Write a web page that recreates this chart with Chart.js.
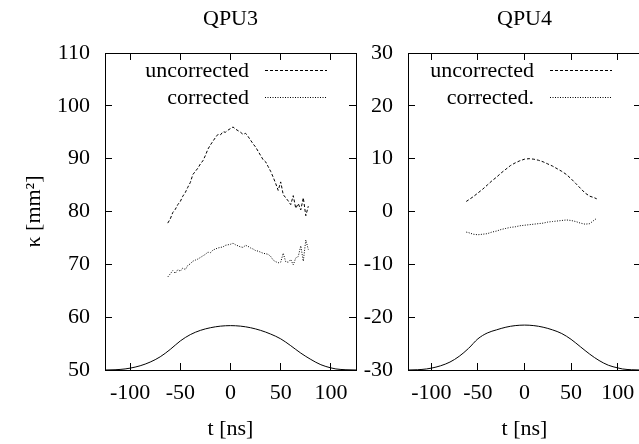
<!DOCTYPE html>
<html>
<head>
<meta charset="utf-8">
<script src="https://cdn.jsdelivr.net/npm/chart.js@4.4.1/dist/chart.umd.min.js"></script>
<style>
  html, body { margin:0; padding:0; background:#fff; overflow:hidden; }
  body { width:639px; height:444px; position:relative; }
  canvas { position:absolute; top:0; }
  #qpu3 { left:0; }
  #qpu4 { left:356px; }
</style>
</head>
<body>
<canvas id="qpu3" width="370" height="444"></canvas>
<canvas id="qpu4" width="300" height="444"></canvas>
<script>
// ============================
// DATA
// ============================

const xTicks  = [-100, -50, 0, 50, 100];
const y3Ticks = [50, 60, 70, 80, 90, 100, 110];
const y4Ticks = [-30, -20, -10, 0, 10, 20, 30];

// pulse shape (solid line)
const tPulse  = [-125, -115, -105, -100, -90, -80, -70, -60, -50, -40, -30, -20, -10, 0,
                 10, 20, 30, 40, 50, 60, 70, 80, 90, 100, 105, 115, 125];
const pulseQ3 = [50.0, 50.05, 50.2, 50.35, 50.8, 51.5, 52.5, 53.9, 55.5, 56.7, 57.5, 58.0, 58.3, 58.4,
                 58.3, 58.0, 57.5, 56.8, 55.9, 54.6, 53.2, 52.0, 51.0, 50.4, 50.2, 50.05, 50.0];
const pulseQ4 = [-30.0, -29.95, -29.8, -29.65, -29.2, -28.5, -27.4, -25.9, -24.1, -23.0, -22.4, -21.9, -21.6, -21.5,
                 -21.6, -21.9, -22.4, -23.1, -24.2, -25.6, -27.0, -28.2, -29.1, -29.6, -29.8, -29.95, -30.0];

// QPU3 measurements
const tQ3 = [-62.5, -60, -57.5, -55, -52.5, -50, -47.5, -45, -42.5, -40, -37.5, -35, -32.5, -30,
             -27.5, -25, -22.5, -20, -17.5, -15, -12.5, -10, -7.5, -5, -2.5, 0, 2.5, 5, 7.5,
             10, 12.5, 15, 17.5, 20, 22.5, 25, 27.5, 30, 32.5, 35, 37.5, 40, 42.5, 45, 47.5,
             50, 52.5, 55, 57.5, 60, 62.5, 65, 67.5, 70, 72.5, 75, 77.5];
const uncQ3 = [77.8, 78.6, 79.8, 80.4, 81.3, 81.9, 82.9, 83.6, 84.6, 85.5, 87.0, 87.6, 88.2, 89.0,
               89.6, 90.6, 91.8, 92.6, 93.3, 94.0, 94.6, 94.5, 95.1, 95.0, 95.4, 95.7, 96.0, 95.6, 95.3,
               95.0, 94.6, 94.8, 94.2, 93.5, 92.8, 92.2, 91.4, 90.6, 89.8, 89.4, 88.5, 87.6, 86.5, 85.3, 84.0,
               85.6, 83.2, 82.6, 82.0, 81.3, 83.0, 80.6, 81.5, 80.3, 82.6, 79.2, 81.0];
const corQ3 = [67.6, 68.2, 68.8, 68.3, 69.0, 68.7, 69.3, 69.0, 69.8, 70.1, 70.6, 70.8, 71.0, 71.3,
               71.6, 71.9, 72.3, 72.2, 72.7, 72.9, 73.1, 73.2, 73.3, 73.6, 73.7, 73.8, 74.0, 73.7, 73.5,
               73.3, 73.2, 73.6, 73.4, 73.1, 72.9, 72.6, 72.5, 72.3, 72.1, 72.0, 71.9, 71.5, 70.8, 70.5, 70.3,
               70.4, 72.1, 70.5, 70.4, 70.9, 69.9, 71.2, 71.5, 73.5, 70.6, 74.6, 72.8];

// QPU4 measurements
const tQ4 = [-62.5, -60, -55, -50, -45, -40, -35, -30, -25, -20, -15, -10, -5, 0,
             5, 10, 15, 20, 25, 30, 35, 40, 45, 50, 55, 60, 65, 70, 75, 77.5];
const uncQ4 = [1.9, 2.2, 2.8, 3.5, 4.2, 5.0, 5.8, 6.5, 7.3, 8.0, 8.7, 9.2, 9.6, 9.9,
               10.0, 9.9, 9.7, 9.4, 9.0, 8.6, 8.1, 7.6, 7.0, 6.2, 5.3, 4.4, 3.5, 2.9, 2.6, 2.4];
const corQ4 = [-3.9, -4.0, -4.3, -4.4, -4.3, -4.2, -3.9, -3.7, -3.4, -3.2, -3.0, -2.9, -2.7, -2.6,
               -2.5, -2.4, -2.3, -2.2, -2.0, -1.9, -1.8, -1.7, -1.6, -1.7, -1.9, -2.2, -2.4, -2.3, -1.6, -1.3];


// ============================
// STYLE
// ============================

const FONT_FAMILY = '"Liberation Serif", "Times New Roman", serif';
Chart.defaults.font.family = FONT_FAMILY;
Chart.defaults.font.size = 22;
Chart.defaults.color = "#000";

const pts = (xs, ys) => xs.map((x, i) => ({ x: x, y: ys[i] }));

// gnuplot like key: text right aligned, line sample on its right
const keyPlugin = {
  id: "key",
  afterDatasetsDraw(chart){
    const { ctx, chartArea } = chart;
    const x1 = chartArea.right - 29;
    const x0 = x1 - 62;
    ctx.save();
    ctx.font = "22px " + FONT_FAMILY;
    ctx.textAlign = "right";
    ctx.textBaseline = "middle";
    ctx.fillStyle = "#000";
    chart.data.datasets.forEach((ds, i) => {
      if(!ds.label) return;
      const y = Math.round(chartArea.top + 17 + i * 26.5) + 0.5;
      ctx.fillText(ds.label, x0 - 16, y + 1);
      ctx.beginPath();
      ctx.setLineDash(ds.borderDash || []);
      ctx.strokeStyle = "#000";
      ctx.lineWidth = 1;
      ctx.moveTo(x0, y);
      ctx.lineTo(x1, y);
      ctx.stroke();
    });
    ctx.restore();
  }
};

function edge(extra){
  return Object.assign({
    type: "linear",
    grid: { drawOnChartArea: false, drawTicks: true, tickLength: -7, color: "#000", lineWidth: 1 },
    border: { display: true, color: "#000", width: 1 }
  }, extra);
}

function makePanel(id, opt){

  const setTicks = list => s => { s.ticks = list.map(v => ({ value: v })); };
  const line = { borderColor: "#000", backgroundColor: "#000", borderWidth: 1, pointRadius: 0, fill: false, tension: 0 };

  return new Chart(document.getElementById(id), {
    type: "line",
    data: {
      datasets: [
        Object.assign({ label: opt.labels[0], data: pts(opt.t, opt.unc), borderDash: [3, 2] }, line),
        Object.assign({ label: opt.labels[1], data: pts(opt.t, opt.cor), borderDash: [1, 1.5] }, line),
        Object.assign({ label: "", data: pts(tPulse, opt.pulse), borderDash: [] }, line, { cubicInterpolationMode: "monotone" })
      ]
    },
    options: {
      responsive: false,
      animation: false,
      devicePixelRatio: 1,
      layout: { padding: 0 },
      plugins: {
        legend: { display: false },
        tooltip: { enabled: false },
        colors: { enabled: false }
      },
      scales: {
        x: edge({
          position: "bottom", min: -125, max: 125,
          afterBuildTicks: setTicks(xTicks),
          ticks: { padding: 17, maxRotation: 0, autoSkip: false },
          title: { display: true, text: "t [ns]", padding: { top: 0, bottom: 2 } },
          afterFit: s => { s.height = 74; }
        }),
        xTop: edge({
          position: "top", min: -125, max: 125,
          afterBuildTicks: setTicks(xTicks),
          ticks: { display: false },
          title: { display: true, text: opt.title, padding: { top: 6, bottom: 0 } },
          afterFit: s => { s.height = 53; }
        }),
        y: edge({
          position: "left", min: opt.yTicks[0], max: opt.yTicks[opt.yTicks.length - 1],
          afterBuildTicks: setTicks(opt.yTicks),
          ticks: { padding: 22, autoSkip: false },
          title: { display: !!opt.yTitle, text: opt.yTitle || "", padding: { top: 21, bottom: 0 } },
          afterFit: s => { s.width = opt.left; }
        }),
        yRight: edge({
          position: "right", min: opt.yTicks[0], max: opt.yTicks[opt.yTicks.length - 1],
          afterBuildTicks: setTicks(opt.yTicks),
          ticks: { display: false },
          afterFit: s => { s.width = opt.right; }
        })
      }
    },
    plugins: [keyPlugin]
  });
}

makePanel("qpu3", {
  title: "QPU3", yTitle: "κ [mm²]",
  labels: ["uncorrected", "corrected"],
  t: tQ3, unc: uncQ3, cor: corQ3, pulse: pulseQ3,
  yTicks: y3Ticks, left: 105, right: 14
});

makePanel("qpu4", {
  title: "QPU4",
  labels: ["uncorrected", "corrected."],
  t: tQ4, unc: uncQ4, cor: corQ4, pulse: pulseQ4,
  yTicks: y4Ticks, left: 52, right: 15
});
</script>
</body>
</html>
